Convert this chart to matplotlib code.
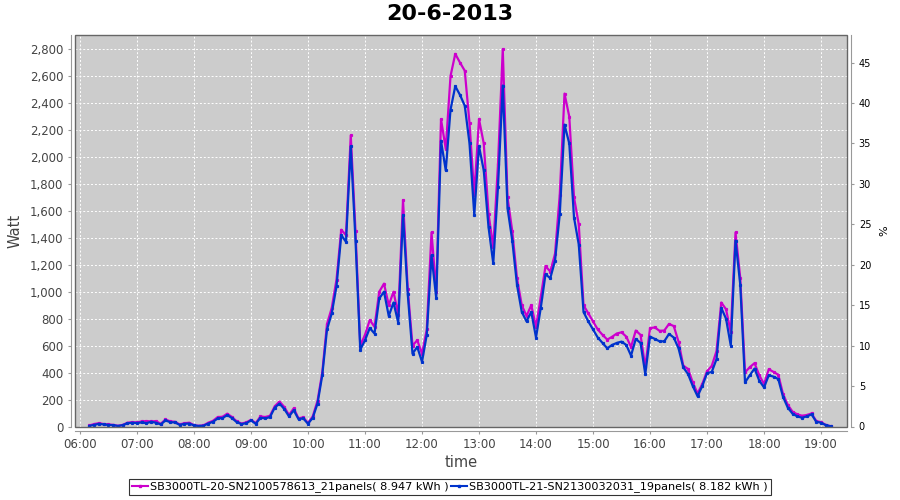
import matplotlib
matplotlib.use("Agg")
import matplotlib.pyplot as plt
import matplotlib.dates as mdates
from matplotlib.lines import Line2D
from matplotlib.patches import Rectangle
from matplotlib.ticker import FuncFormatter, MultipleLocator
import pandas as pd

# 5-minute readings, 20-6-2013
times = [
    "06:10", "06:15", "06:20", "06:25", "06:30", "06:35", "06:40", "06:45", "06:50", "06:55",
    "07:00", "07:05", "07:10", "07:15", "07:20", "07:25", "07:30", "07:35", "07:40", "07:45", "07:50", "07:55",
    "08:00", "08:05", "08:10", "08:15", "08:20", "08:25", "08:30", "08:35", "08:40", "08:45", "08:50", "08:55",
    "09:00", "09:05", "09:10", "09:15", "09:20", "09:25", "09:30", "09:35", "09:40", "09:45", "09:50", "09:55",
    "10:00", "10:05", "10:10", "10:15", "10:20", "10:25", "10:30", "10:35", "10:40", "10:45", "10:50", "10:55",
    "11:00", "11:05", "11:10", "11:15", "11:20", "11:25", "11:30", "11:35", "11:40", "11:45", "11:50", "11:55",
    "12:00", "12:05", "12:10", "12:15", "12:20", "12:25", "12:30", "12:35", "12:40", "12:45", "12:50", "12:55",
    "13:00", "13:05", "13:10", "13:15", "13:20", "13:25", "13:30", "13:35", "13:40", "13:45", "13:50", "13:55",
    "14:00", "14:05", "14:10", "14:15", "14:20", "14:25", "14:30", "14:35", "14:40", "14:45", "14:50", "14:55",
    "15:00", "15:05", "15:10", "15:15", "15:20", "15:25", "15:30", "15:35", "15:40", "15:45", "15:50", "15:55",
    "16:00", "16:05", "16:10", "16:15", "16:20", "16:25", "16:30", "16:35", "16:40", "16:45", "16:50", "16:55",
    "17:00", "17:05", "17:10", "17:15", "17:20", "17:25", "17:30", "17:35", "17:40", "17:45", "17:50", "17:55",
    "18:00", "18:05", "18:10", "18:15", "18:20", "18:25", "18:30", "18:35", "18:40", "18:45", "18:50", "18:55",
    "19:00", "19:05", "19:10",
]

sb20_watt = [
    8, 18, 25, 18, 15, 12, 5, 12, 28, 32,
    30, 38, 40, 38, 40, 20, 52, 38, 35, 15, 25, 28,
    10, 5, 8, 28, 42, 70, 72, 95, 70, 38, 22, 30,
    50, 25, 75, 70, 80, 150, 185, 145, 85, 135, 60, 68,
    25, 75, 190, 400, 760, 880, 1090, 1460, 1420, 2160, 1450, 600,
    680, 790, 740, 1000, 1060, 900, 1000, 830, 1680, 1020, 600, 640,
    540, 720, 1440, 1000, 2280, 2060, 2600, 2765, 2700, 2640, 2250, 1720,
    2280, 2100, 1580, 1330, 1950, 2800, 1700, 1450, 1100, 900, 820, 900,
    740, 960, 1190, 1150, 1280, 1720, 2470, 2300, 1700, 1500, 900, 840,
    780, 720, 680, 645, 665, 690, 699, 667, 590, 712, 680, 440,
    730, 735, 710, 712, 761, 745, 630, 451, 427, 327, 245, 315,
    410, 450, 560, 920, 870, 700, 1440, 1100, 402, 440, 470, 380,
    315, 425, 405, 384, 241, 160, 110, 90, 80, 85, 97, 40,
    32, 12, 2,
]

sb21_watt = [
    5, 12, 20, 15, 12, 10, 4, 10, 24, 28,
    26, 30, 25, 35, 28, 15, 45, 32, 30, 12, 20, 22,
    8, 4, 6, 22, 35, 60, 62, 85, 62, 32, 18, 25,
    45, 20, 65, 60, 70, 140, 170, 130, 75, 120, 55, 60,
    20, 65, 170, 380, 720, 840, 1040, 1420, 1370, 2080, 1380, 570,
    640, 730, 690, 950, 1000, 820, 920, 770, 1570, 980, 540, 590,
    480, 680, 1270, 950, 2120, 1900, 2350, 2525, 2460, 2380, 2100, 1570,
    2080, 1900, 1480, 1210, 1780, 2530, 1620, 1380, 1050, 850, 780, 850,
    660, 880, 1130, 1100, 1230, 1575, 2240, 2100, 1550, 1350, 850, 780,
    720, 660, 620, 580, 605, 620, 630, 605, 526, 650, 620, 389,
    667, 650, 632, 632, 687, 660, 580, 439, 389, 300, 225, 300,
    395, 405, 500, 880, 800, 600, 1380, 1050, 327, 380, 430, 340,
    290, 380, 370, 352, 220, 140, 95, 75, 65, 75, 90, 35,
    28, 10, 2,
]

labels = [
    "SB3000TL-20-SN2100578613_21panels( 8.947 kWh )",
    "SB3000TL-21-SN2130032031_19panels( 8.182 kWh )",
]
colors = ["#CC00CC", "#0033CC"]

t = pd.to_datetime(["2013-06-20 " + s for s in times])

fig = plt.figure(figsize=(9, 5), dpi=100)
ax = fig.add_axes([75 / 900, 1 - 426.5 / 500, 772 / 900, 391.5 / 500])
ax.set_facecolor("#CCCCCC")

for vals, c in zip([sb20_watt, sb21_watt], colors):
    ax.plot(t, vals, color=c, lw=1.6, marker="s", ms=1.3, zorder=3,
            solid_joinstyle="round")

ymax = 2905
ax.set_ylim(0, ymax)
ax.set_xlim(pd.Timestamp("2013-06-20 05:54:45"), pd.Timestamp("2013-06-20 19:27:20"))

ax.yaxis.set_major_locator(MultipleLocator(200))
ax.yaxis.set_major_formatter(FuncFormatter(lambda v, p: f"{int(v):,}"))
ax.xaxis.set_major_locator(mdates.HourLocator())
ax.xaxis.set_major_formatter(mdates.DateFormatter("%H:%M"))

ax.grid(True, color="white", ls=(0, (2, 2)), lw=0.7)
ax.set_axisbelow(True)

for s in ["top", "right"]:
    ax.spines[s].set_visible(False)
for s in ["left", "bottom"]:
    ax.spines[s].set_position(("outward", 3))
    ax.spines[s].set_color("#999999")
ax.tick_params(axis="both", colors="#999999", length=2, labelsize=8.5, labelcolor="#444444")
ax.add_patch(Rectangle((0, 0), 1, 1, transform=ax.transAxes, fill=False,
                       ec="#666666", lw=1, clip_on=False, zorder=5))

ax.set_ylabel("Watt", fontsize=10.5, color="#444444", labelpad=5)
ax.set_xlabel("time", fontsize=10.5, color="#444444", labelpad=3)

ax2 = ax.twinx()
ax2.set_ylim(0, ymax / 60)
ax2.yaxis.set_major_locator(MultipleLocator(5))
for s in ["top", "left", "bottom"]:
    ax2.spines[s].set_visible(False)
ax2.spines["right"].set_position(("outward", 3))
ax2.spines["right"].set_color("#999999")
ax2.tick_params(axis="y", colors="#999999", length=2, labelsize=7, labelcolor="black")
ax2.set_ylabel("%", fontsize=8, color="black", labelpad=6)

fig.text(0.5, 1 - 14 / 500, "20-6-2013", ha="center", va="center",
         fontsize=16, fontweight="bold")

handles = [Line2D([], [], color=c, lw=1.5, marker="s", ms=2) for c in colors]
leg = fig.legend(handles, labels, loc="center", bbox_to_anchor=(0.5, 1 - 487 / 500),
                 ncol=2, fontsize=8.1, frameon=True, fancybox=False, numpoints=1,
                 handlelength=1.4, handletextpad=0.2, columnspacing=0.2,
                 borderpad=0.25, borderaxespad=0)
leg.get_frame().set_edgecolor("black")
leg.get_frame().set_linewidth(0.8)

plt.savefig("out.png", dpi=100)
